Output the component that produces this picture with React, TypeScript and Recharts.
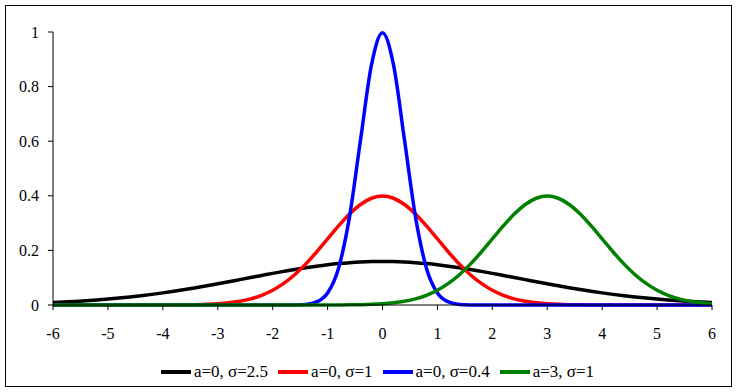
import { LineChart, Line, XAxis, YAxis } from 'recharts';

// x positions, step 0.2 from -6 to 6
const xValues = [
  -6, -5.8, -5.6, -5.4, -5.2, -5, -4.8, -4.6, -4.4, -4.2, -4, -3.8, -3.6, -3.4, -3.2, -3,
  -2.8, -2.6, -2.4, -2.2, -2, -1.8, -1.6, -1.4, -1.2, -1, -0.8, -0.6, -0.4, -0.2, 0,
  0.2, 0.4, 0.6, 0.8, 1, 1.2, 1.4, 1.6, 1.8, 2, 2.2, 2.4, 2.6, 2.8, 3,
  3.2, 3.4, 3.6, 3.8, 4, 4.2, 4.4, 4.6, 4.8, 5, 5.2, 5.4, 5.6, 5.8, 6,
];

const blackValues = [
  0.0090, 0.0108, 0.0130, 0.0155, 0.0183, 0.0216, 0.0253, 0.0294, 0.0339, 0.0389, 0.0444,
  0.0503, 0.0566, 0.0633, 0.0703, 0.0777, 0.0852, 0.0929, 0.1006, 0.1083, 0.1159, 0.1231,
  0.1301, 0.1364, 0.1422, 0.1473, 0.1516, 0.1551, 0.1576, 0.1591, 0.1596, 0.1591, 0.1576,
  0.1551, 0.1516, 0.1473, 0.1422, 0.1364, 0.1301, 0.1231, 0.1159, 0.1083, 0.1006, 0.0929,
  0.0852, 0.0777, 0.0703, 0.0633, 0.0566, 0.0503, 0.0444, 0.0389, 0.0339, 0.0294, 0.0253,
  0.0216, 0.0183, 0.0155, 0.0130, 0.0108, 0.0090,
];

const redValues = [
  0, 0, 0, 0, 0, 0, 0, 0, 0, 0,
  0.0001, 0.0003, 0.0006, 0.0012, 0.0024, 0.0044, 0.0079, 0.0136, 0.0224, 0.0355, 0.0540,
  0.0790, 0.1109, 0.1497, 0.1942, 0.2420, 0.2897, 0.3332, 0.3683, 0.3910, 0.3989, 0.3910,
  0.3683, 0.3332, 0.2897, 0.2420, 0.1942, 0.1497, 0.1109, 0.0790, 0.0540, 0.0355, 0.0224,
  0.0136, 0.0079, 0.0044, 0.0024, 0.0012, 0.0006, 0.0003, 0.0001,
  0, 0, 0, 0, 0, 0, 0, 0, 0, 0,
];

const blueValues = [
  0, 0, 0, 0, 0, 0, 0, 0, 0, 0, 0, 0, 0, 0, 0, 0, 0, 0, 0, 0, 0, 0,
  0.0003, 0.0022, 0.0111, 0.0438, 0.1350, 0.3238, 0.6049, 0.8802, 0.9974, 0.8802, 0.6049,
  0.3238, 0.1350, 0.0438, 0.0111, 0.0022, 0.0003,
  0, 0, 0, 0, 0, 0, 0, 0, 0, 0, 0, 0, 0, 0, 0, 0, 0, 0, 0, 0, 0, 0,
];

const greenValues = [
  0, 0, 0, 0, 0, 0, 0, 0, 0, 0, 0, 0, 0, 0, 0, 0, 0, 0, 0, 0, 0, 0, 0, 0, 0,
  0.0001, 0.0003, 0.0006, 0.0012, 0.0024, 0.0044, 0.0079, 0.0136, 0.0224, 0.0355, 0.0540,
  0.0790, 0.1109, 0.1497, 0.1942, 0.2420, 0.2897, 0.3332, 0.3683, 0.3910, 0.3989, 0.3910,
  0.3683, 0.3332, 0.2897, 0.2420, 0.1942, 0.1497, 0.1109, 0.0790, 0.0540, 0.0355, 0.0224,
  0.0136, 0.0079, 0.0044,
];

const xTicks = [-6, -5, -4, -3, -2, -1, 0, 1, 2, 3, 4, 5, 6];
const yTicks = [0, 0.2, 0.4, 0.6, 0.8, 1];

const series = [
  { key: 'black', name: 'a=0, σ=2.5', color: '#000000', values: blackValues },
  { key: 'red', name: 'a=0, σ=1', color: '#ff0000', values: redValues },
  { key: 'blue', name: 'a=0, σ=0.4', color: '#0000ff', values: blueValues },
  { key: 'green', name: 'a=3, σ=1', color: '#008000', values: greenValues },
];

const data = xValues.map((x, i) => {
  const row: Record<string, number> = { x };
  series.forEach(s => { row[s.key] = s.values[i]; });
  return row;
});

const font = 'Liberation Serif, Times New Roman, serif';

export default function App() {
  return (
    <div style={{ position: 'absolute', left: 0, top: 0, width: 737, height: 392, background: '#fff', fontFamily: font }}>
      <div style={{ position: 'absolute', left: 5, top: 5, width: 727, height: 382, border: '1px solid #000', boxSizing: 'border-box' }} />
      <LineChart width={737} height={392} data={data} margin={{ top: 32, right: 25, left: 0, bottom: 57 }}>
        <XAxis
          dataKey="x"
          type="number"
          domain={[-6, 6]}
          ticks={xTicks}
          height={30}
          stroke="#000"
          tickSize={5}
          tickMargin={18}
          tick={{ fill: '#000', fontSize: 16, fontFamily: font }}
        />
        <YAxis
          type="number"
          domain={[0, 1]}
          ticks={yTicks}
          width={53}
          stroke="#000"
          tickSize={5}
          tickMargin={9}
          tick={{ fill: '#000', fontSize: 16, fontFamily: font }}
        />
        {series.map(s => (
          <Line
            key={s.key}
            dataKey={s.key}
            name={s.name}
            type="monotone"
            stroke={s.color}
            strokeWidth={3.5}
            dot={false}
            isAnimationActive={false}
          />
        ))}
      </LineChart>
      <div style={{ position: 'absolute', left: 53, width: 659, top: 361, height: 22, display: 'flex', justifyContent: 'center', alignItems: 'center', fontSize: 17, color: '#000' }}>
        {series.map(s => (
          <div key={s.key} style={{ display: 'flex', alignItems: 'center', marginRight: 10 }}>
            <span style={{ width: 30, height: 4, background: s.color, marginRight: 3 }} />
            <span>{s.name}</span>
          </div>
        ))}
      </div>
    </div>
  );
}
